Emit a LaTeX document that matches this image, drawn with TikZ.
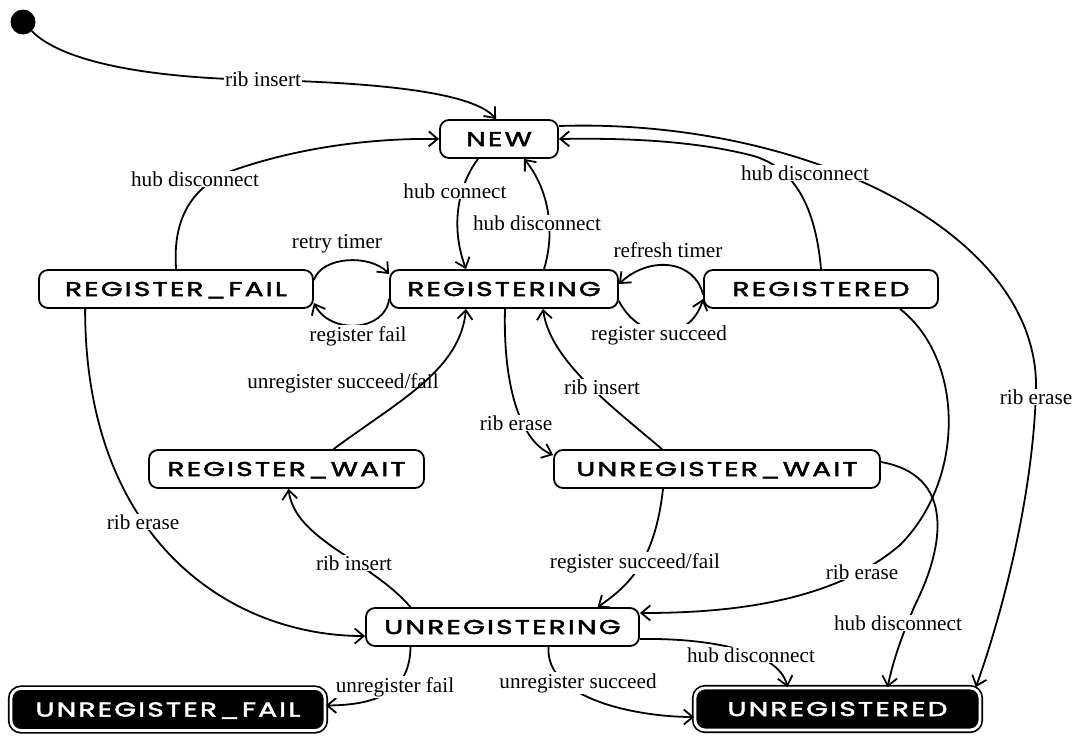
\documentclass[tikz,border=0pt]{standalone}
\usepackage{fontspec}
\setmainfont{Liberation Serif}
\newfontfamily\statefont[FakeStretch=1.4,LetterSpace=11,FakeBold=2.5]{Poppins}
\usetikzlibrary{arrows.meta}
\begin{document}
\begin{tikzpicture}[x=1pt,y=-1pt,
  state/.style={draw, line width=1.8pt, rounded corners=9pt, minimum height=38pt,
    inner sep=0pt, text height=14pt, text depth=0pt, fill=white,
    font=\statefont\fontsize{20}{20}\selectfont},
  final/.style={draw, fill=black, text=white, line width=1.7pt, double=white,
    double distance=2.8pt, rounded corners=10pt, minimum height=42pt,
    inner sep=0pt, text height=14pt, text depth=0pt,
    font=\statefont\fontsize{20}{20}\selectfont},
  tr/.style={line width=1.8pt, -{Straight Barb[length=9pt,width=15pt,line width=1.8pt]}},
  lbl/.style={fill=white, inner sep=1pt, font=\fontsize{21.2}{22}\selectfont},
  lblx/.style={inner sep=1pt, font=\fontsize{21.2}{22}\selectfont}]
\useasboundingbox (0,0) rectangle (1078,736);

% states
\node[circle, fill=black, minimum size=25pt, inner sep=0pt] (init) at (23,22) {};
\node[state, minimum width=118pt] (NEW) at (499,139) {NEW};
\node[state, minimum width=274pt] (RF) at (176,289) {REGISTER\_FAIL};
\node[state, minimum width=228pt] (RG) at (504,289) {REGISTERING};
\node[state, minimum width=234pt] (RD) at (821,289) {REGISTERED};
\node[state, minimum width=275pt] (RW) at (286.5,469) {REGISTER\_WAIT};
\node[state, minimum width=326pt] (UW) at (717,469) {UNREGISTER\_WAIT};
\node[state, minimum width=273pt] (UG) at (502.5,627) {UNREGISTERING};
\node[final, minimum width=314pt] (UF) at (168,709.5) {UNREGISTER\_FAIL};
\node[final, minimum width=285pt] (UD) at (837.5,709) {UNREGISTERED};

% transitions
\draw[tr] (init) .. controls (60,60) and (140,78) .. (263,80) .. controls (390,83) and (475,94) .. ([xshift=-3pt]NEW.north);
\draw[tr] ([xshift=138pt]RF.north west) .. controls (172,215) and (195,182) .. (240,168) .. controls (300,148) and (370,138) .. (NEW.west);
\draw[tr] ([xshift=-21pt]NEW.south) .. controls (462,180) and (448,220) .. ([xshift=-38pt]RG.north);
\draw[tr] ([xshift=40pt]RG.north) .. controls (556,230) and (548,188) .. ([xshift=25pt]NEW.south);
\draw[tr] (RD.north) .. controls (815,200) and (790,165) .. (750,155) .. controls (690,140) and (620,138) .. (NEW.east);
\draw[tr] ([yshift=13pt]NEW.east) .. controls (800,118) and (1040,230) .. (1036,390) .. controls (1033,500) and (1000,620) .. ([xshift=-5pt]UD.north east);
\draw[tr] ([yshift=9pt]RF.east) .. controls (322,256) and (370,254) .. ([yshift=15pt]RG.west);
\draw[tr] ([yshift=-10pt]RG.west) .. controls (385,332) and (330,335) .. ([yshift=-14pt]RF.east);
\draw[tr] ([yshift=-6pt]RD.west) .. controls (695,260) and (650,255) .. ([yshift=5pt]RG.east);
\draw[tr] ([yshift=-12pt]RG.east) .. controls (640,342) and (690,342) .. ([yshift=-10pt]RD.west);
\draw[tr] ([xshift=1pt]RG.south) .. controls (503,380) and (518,440) .. ([yshift=14pt]UW.west);
\draw[tr] ([xshift=-55pt]UW.north) .. controls (610,405) and (550,360) .. ([xshift=39pt]RG.south);
\draw[tr] ([xshift=47pt]RW.north) .. controls (400,400) and (460,370) .. ([xshift=-38pt]RG.south);
\draw[tr] ([xshift=-92pt]UG.north) .. controls (370,560) and (295,540) .. ([xshift=2pt]RW.south);
\draw[tr] ([xshift=47pt]RF.south west) .. controls (85,540) and (230,636) .. ([yshift=-9pt]UG.west);
\draw[tr] ([xshift=-54pt]UW.south) .. controls (655,560) and (630,585) .. ([xshift=95pt]UG.north);
\draw[tr] ([xshift=79pt]RD.south) .. controls (965,360) and (965,480) .. (900,545) .. controls (830,605) and (720,613) .. ([yshift=14pt]UG.east);
\draw[tr] ([yshift=7pt]UW.east) .. controls (955,475) and (945,545) .. (915,605) .. controls (900,640) and (893,662) .. ([xshift=50pt]UD.north);
\draw[tr] ([yshift=-12pt]UG.east) .. controls (700,638) and (778,648) .. ([xshift=-50pt]UD.north);
\draw[tr] ([xshift=46pt]UG.south) .. controls (545,700) and (640,717) .. ([yshift=-8pt]UD.west);
\draw[tr] ([xshift=-92pt]UG.south) .. controls (410,690) and (380,705) .. ([yshift=4pt]UF.east);

% labels
\node[lbl] (l1) at (263,79) {rib insert};
\node[lbl] (l2) at (195,179) {hub disconnect};
\node[lbl] (l3) at (455,191) {hub connect};
\node[lbl] (l4) at (537,223) {hub disconnect};
\node[lbl] (l5) at (805,173) {hub disconnect};
\node[lbl] (l6) at (1036,397) {rib erase};
\node[lbl] (l7) at (337,244) {retry timer};
\node[lbl] (l8) at (358,336) {register fail};
\node[lbl] (l9) at (668,250) {refresh timer};
\node[lbl] (l10) at (659,335) {register succeed};
\node[lbl] (l11) at (516,423) {rib erase};
\node[lbl] (l12) at (602,387) {rib insert};
\node[lblx] (l13) at (343,383) {unregister succeed/fail};
\node[lbl] (l14) at (354,563) {rib insert};
\node[lbl] (l15) at (143,522) {rib erase};
\node[lbl] (l16) at (635,563) {register succeed/fail};
\node[lbl] (l17) at (862,572) {rib erase};
\node[lbl] (l18) at (898,623) {hub disconnect};
\node[lbl] (l19) at (751,655) {hub disconnect};
\node[lbl] (l20) at (578,683) {unregister succeed};
\node[lbl] (l21) at (395,687) {unregister fail};
\end{tikzpicture}
\end{document}
